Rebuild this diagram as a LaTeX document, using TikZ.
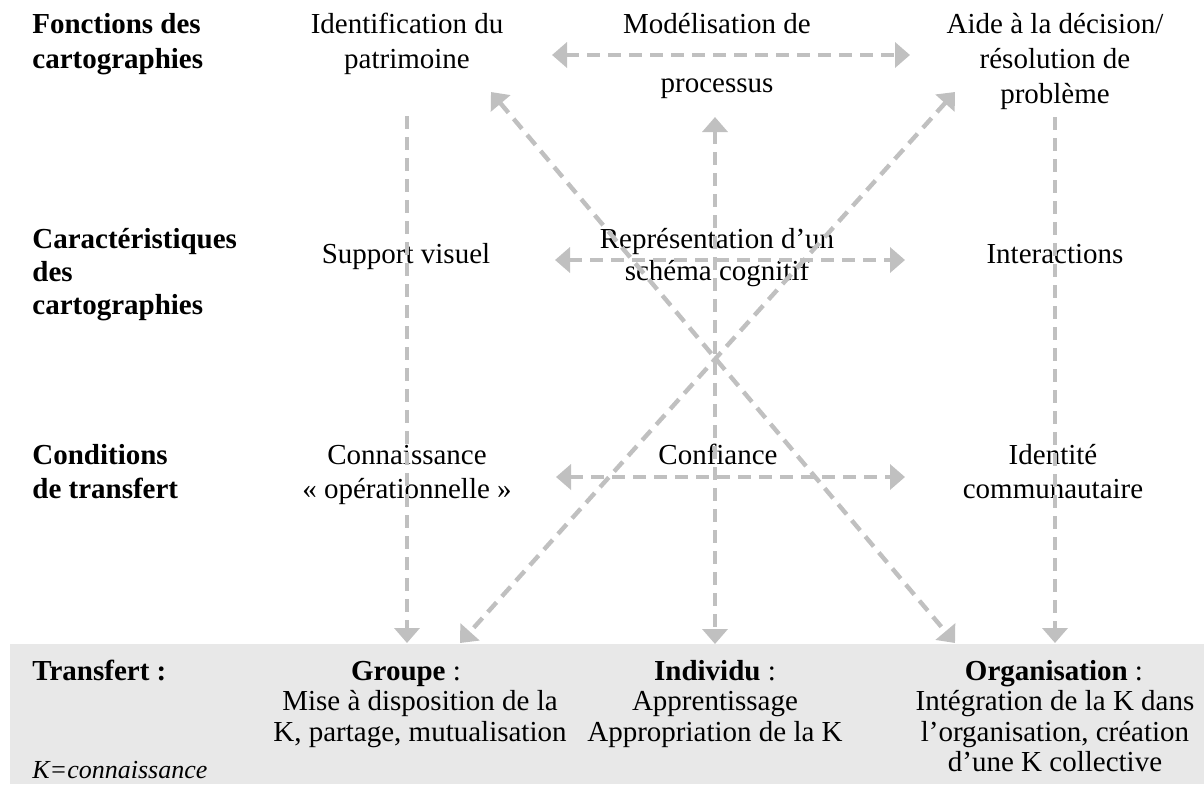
\documentclass[tikz,border=0pt]{standalone}
\usepackage{fontspec}
\setmainfont{Liberation Serif}
\usetikzlibrary{arrows.meta}
\definecolor{arr}{HTML}{C0C0C0}
\definecolor{band}{HTML}{E8E8E8}
\begin{document}
\begin{tikzpicture}[x=0.5pt,y=-0.5pt,
  txt/.style={anchor=base,inner sep=0pt,font=\fontsize{14.5}{17}\selectfont},
  lbl/.style={anchor=base west,inner sep=0pt,font=\fontsize{14.5}{17}\selectfont\bfseries},
  note/.style={anchor=base west,inner sep=0pt,font=\fontsize{13}{15}\selectfont\itshape},
  link/.style={draw=arr,line width=2.2pt,dash pattern=on 6.5pt off 4pt},
  tip/.tip={Triangle[length=7.5pt,width=12.5pt]},
  both/.style={link,tip-tip},
  onedir/.style={link,-tip}]
\useasboundingbox (0,0) rectangle (1204,784);
\fill[band] (10,644) rectangle (1204,784);

% left labels
\node[lbl] (fa) at (32,33) {Fonctions des};
\node[lbl] (fb) at (32,68) {cartographies};
\node[lbl] (ca) at (32,248) {Caractéristiques};
\node[lbl] (cb) at (32,281) {des};
\node[lbl] (cc) at (32,314) {cartographies};
\node[lbl] (ta) at (32,464) {Conditions};
\node[lbl] (tb) at (32,498) {de transfert};
\node[lbl] (tr) at (32,680) {Transfert :};
\node[note] (kk) at (32,778) {K=connaissance};

% row 1
\node[txt] (r1a) at (407,33) {Identification du};
\node[txt] (r1b) at (407,68) {patrimoine};
\node[txt] (r2a) at (717,33) {Modélisation de};
\node[txt] (r2b) at (717,92) {processus};
\node[txt] (r3a) at (1055,33) {Aide à la décision/};
\node[txt] (r3b) at (1055,68) {résolution de};
\node[txt] (r3c) at (1055,103) {problème};

% row 2
\node[txt] (s1) at (406,263) {Support visuel};
\node[txt] (s2a) at (717,248) {Représentation d’un};
\node[txt] (s2b) at (717,280) {schéma cognitif};
\node[txt] (s3) at (1055,263) {Interactions};

% row 3
\node[txt] (c1a) at (407,464) {Connaissance};
\node[txt] (c1b) at (407,498) {« opérationnelle »};
\node[txt] (c2) at (718,464) {Confiance};
\node[txt] (c3a) at (1053,464) {Identité};
\node[txt] (c3b) at (1053,498) {communautaire};

% band
\node[txt] (g0) at (406,680) {\textbf{Groupe} :};
\node[txt] (g1) at (420,710) {Mise à disposition de la};
\node[txt] (g2) at (420,741) {K, partage, mutualisation};
\node[txt] (i0) at (715,680) {\textbf{Individu} :};
\node[txt] (i1) at (715,710) {Apprentissage};
\node[txt] (i2) at (715,741) {Appropriation de la K};
\node[txt] (o0) at (1054,680) {\textbf{Organisation} :};
\node[txt] (o1) at (1055,710) {Intégration de la K dans};
\node[txt] (o2) at (1055,741) {l’organisation, création};
\node[txt] (o3) at (1055,771) {d’une K collective};

% connector end points
\coordinate (h1l) at (552,55);  \coordinate (h1r) at (910,55);
\coordinate (h2l) at (555,260); \coordinate (h2r) at (905,260);
\coordinate (h3l) at (556,477); \coordinate (h3r) at (905,477);
\coordinate (v1t) at (407,116); \coordinate (v1b) at (407,643);
\coordinate (v2t) at (715,117); \coordinate (v2b) at (715,644);
\coordinate (v3t) at (1055,117); \coordinate (v3b) at (1055,643);
\coordinate (d1t) at (491,92);  \coordinate (d1b) at (955,643);
\coordinate (d2t) at (955,92);  \coordinate (d2b) at (460,643);

\draw[both] (h1l) -- (h1r);
\draw[both] (h2l) -- (h2r);
\draw[both] (h3l) -- (h3r);
\draw[onedir] (v1t) -- (v1b);
\draw[both] (v2t) -- (v2b);
\draw[onedir] (v3t) -- (v3b);
\draw[both] (d1t) -- (d1b);
\draw[both] (d2t) -- (d2b);
\end{tikzpicture}
\end{document}
